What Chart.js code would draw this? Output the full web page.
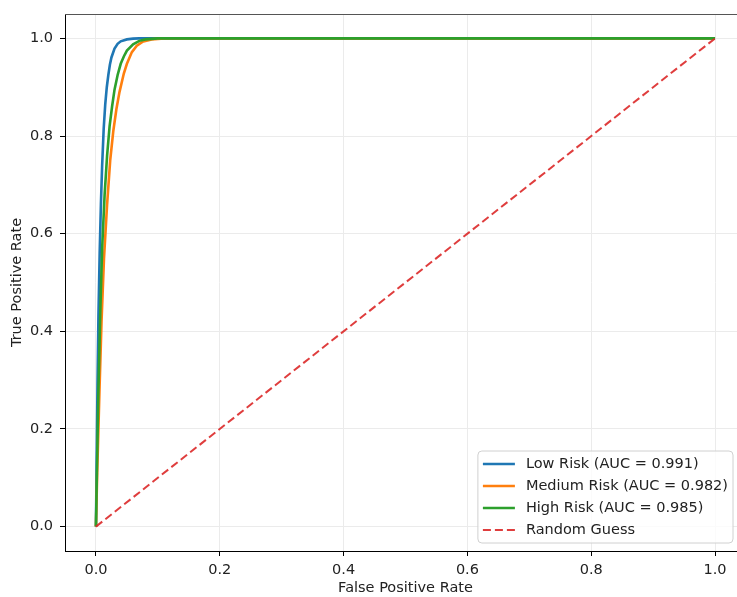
<!DOCTYPE html>
<html>
<head>
<meta charset="utf-8">
<script src="https://cdn.jsdelivr.net/npm/chart.js@4/dist/chart.umd.min.js"></script>
<style>
  html, body { margin: 0; padding: 0; background: #fff; overflow: hidden; }
  #wrap { width: 760px; height: 597px; }
</style>
</head>
<body>
<div id="wrap"><canvas id="roc" width="760" height="597"></canvas></div>
<script>
// Tick positions shared by both axes
const xTickValues = [0.0, 0.2, 0.4, 0.6, 0.8, 1.0];
const yTickValues = [0.0, 0.2, 0.4, 0.6, 0.8, 1.0];

// Series names and their areas under the curve
const riskClasses = ['Low Risk', 'Medium Risk', 'High Risk'];
const aucValues = [0.991, 0.982, 0.985];

// ROC points per risk class
const lowRiskFpr = [0, 0.001, 0.0025, 0.004, 0.006, 0.008, 0.010, 0.0125, 0.015, 0.0175, 0.020, 0.0225, 0.025, 0.030, 0.035, 0.040, 0.050, 0.060, 0.070, 0.100, 1.0];
const lowRiskTpr = [0, 0.12, 0.29, 0.43, 0.56, 0.66, 0.74, 0.815, 0.865, 0.90, 0.925, 0.946, 0.961, 0.979, 0.989, 0.994, 0.998, 0.9995, 1.0, 1.0, 1.0];

const mediumRiskFpr = [0, 0.002, 0.0057, 0.009, 0.013, 0.018, 0.023, 0.028, 0.033, 0.038, 0.045, 0.050, 0.058, 0.066, 0.075, 0.090, 0.110, 1.0];
const mediumRiskTpr = [0, 0.11, 0.28, 0.42, 0.55, 0.66, 0.75, 0.81, 0.855, 0.89, 0.928, 0.948, 0.972, 0.985, 0.993, 0.998, 1.0, 1.0];

const highRiskFpr = [0, 0.0015, 0.004, 0.007, 0.010, 0.014, 0.018, 0.022, 0.026, 0.030, 0.035, 0.040, 0.045, 0.050, 0.060, 0.070, 0.080, 0.100, 1.0];
const highRiskTpr = [0, 0.11, 0.28, 0.44, 0.57, 0.68, 0.76, 0.82, 0.86, 0.895, 0.925, 0.948, 0.963, 0.975, 0.988, 0.995, 0.998, 1.0, 1.0];

// Diagonal reference line
const randomFpr = [0, 1];
const randomTpr = [0, 1];

const FONT = 'DejaVu Sans';
const FONT_SIZE = 14.5;

function toPoints(xs, ys) {
  return xs.map((x, i) => ({ x: x, y: ys[i] }));
}

// Legend drawn inside the plot area, lower right
const innerLegend = {
  id: 'innerLegend',
  afterDraw(chart) {
    const ctx = chart.ctx;
    const area = chart.chartArea;
    const items = chart.data.datasets;
    ctx.save();
    ctx.font = FONT_SIZE + 'px "' + FONT + '"';
    let maxText = 0;
    items.forEach(d => { maxText = Math.max(maxText, ctx.measureText(d.label).width); });
    const padL = 5, lineLen = 32, gap = 11, padR = 5, rowH = 22, padT = 1;
    const w = padL + lineLen + gap + maxText + padR;
    const h = items.length * rowH + 4;
    const x0 = area.right - 13 - w;
    const y0 = area.bottom - 8 - h;
    // rounded frame
    const r = 4;
    ctx.beginPath();
    ctx.moveTo(x0 + r, y0);
    ctx.lineTo(x0 + w - r, y0);
    ctx.quadraticCurveTo(x0 + w, y0, x0 + w, y0 + r);
    ctx.lineTo(x0 + w, y0 + h - r);
    ctx.quadraticCurveTo(x0 + w, y0 + h, x0 + w - r, y0 + h);
    ctx.lineTo(x0 + r, y0 + h);
    ctx.quadraticCurveTo(x0, y0 + h, x0, y0 + h - r);
    ctx.lineTo(x0, y0 + r);
    ctx.quadraticCurveTo(x0, y0, x0 + r, y0);
    ctx.closePath();
    ctx.fillStyle = 'rgba(255,255,255,0.8)';
    ctx.fill();
    ctx.lineWidth = 1;
    ctx.strokeStyle = '#d0d0d0';
    ctx.stroke();
    items.forEach((d, i) => {
      const cy = y0 + padT + rowH / 2 + 1 + i * rowH;
      ctx.beginPath();
      ctx.setLineDash(d.borderDash || []);
      ctx.lineWidth = d.borderWidth;
      ctx.strokeStyle = d.borderColor;
      ctx.moveTo(x0 + padL, cy);
      ctx.lineTo(x0 + padL + lineLen, cy);
      ctx.stroke();
      ctx.setLineDash([]);
      ctx.fillStyle = '#222';
      ctx.textBaseline = 'middle';
      ctx.textAlign = 'left';
      ctx.fillText(d.label, x0 + padL + lineLen + gap, cy);
    });
    ctx.restore();
  }
};

// Top spine of the axes frame
const frameTop = {
  id: 'frameTop',
  afterDraw(chart) {
    const ctx = chart.ctx;
    const a = chart.chartArea;
    ctx.save();
    ctx.strokeStyle = '#555';
    ctx.lineWidth = 1.2;
    ctx.beginPath();
    ctx.moveTo(a.left, a.top + 0.5);
    ctx.lineTo(a.right, a.top + 0.5);
    ctx.stroke();
    ctx.restore();
  }
};

const seriesColors = ['#1f77b4', '#ff7f0e', '#2ca02c'];
const seriesFpr = [lowRiskFpr, mediumRiskFpr, highRiskFpr];
const seriesTpr = [lowRiskTpr, mediumRiskTpr, highRiskTpr];

const datasets = riskClasses.map((name, i) => ({
  label: name + ' (AUC = ' + aucValues[i].toFixed(3) + ')',
  data: toPoints(seriesFpr[i], seriesTpr[i]),
  borderColor: seriesColors[i],
  borderWidth: 2.6,
  pointRadius: 0,
  tension: 0,
  fill: false,
  order: 4 - i
}));
datasets.push({
  label: 'Random Guess',
  data: toPoints(randomFpr, randomTpr),
  borderColor: 'rgba(220,40,40,0.9)',
  borderWidth: 2,
  borderDash: [8, 4],
  pointRadius: 0,
  fill: false,
  order: 1
});

Chart.defaults.font.family = FONT;
Chart.defaults.font.size = FONT_SIZE;
Chart.defaults.color = '#222';

// Pin the axis boxes so the plot area lands at fixed edges
function fixWidth(w) {
  return s => { s.width = w; s.paddingTop = 0; s.paddingBottom = 0; s.paddingLeft = 0; s.paddingRight = 0; };
}
function fixHeight(h) {
  return s => { s.height = h; s.paddingTop = 0; s.paddingBottom = 0; s.paddingLeft = 0; s.paddingRight = 0; };
}

new Chart(document.getElementById('roc'), {
  type: 'line',
  data: { datasets: datasets },
  options: {
    responsive: false,
    animation: false,
    devicePixelRatio: 1,
    layout: { padding: { top: 14, right: 14, left: 0, bottom: 0 } },
    plugins: { legend: { display: false }, tooltip: { enabled: false } },
    scales: {
      x: {
        type: 'linear',
        min: -0.05,
        max: 1.05,
        afterBuildTicks: s => { s.ticks = xTickValues.map(v => ({ value: v })); },
        afterFit: fixHeight(46),
        ticks: { padding: 6, color: '#222', callback: v => v.toFixed(1), maxRotation: 0 },
        grid: { color: '#ebebeb', lineWidth: 1, tickColor: '#000', tickLength: 5, tickWidth: 1 },
        border: { display: true, color: '#000', width: 1 },
        title: { display: true, text: 'False Positive Rate', color: '#222', padding: { top: 0, bottom: 0 } }
      },
      y: {
        type: 'linear',
        min: -0.05,
        max: 1.05,
        afterBuildTicks: s => { s.ticks = yTickValues.map(v => ({ value: v })); },
        afterFit: fixWidth(65),
        ticks: { padding: 7, color: '#222', callback: v => v.toFixed(1) },
        grid: { color: '#ebebeb', lineWidth: 1, tickColor: '#000', tickLength: 5, tickWidth: 1 },
        border: { display: true, color: '#000', width: 1 },
        title: { display: true, text: 'True Positive Rate', color: '#222', padding: { top: 9, bottom: 0 } }
      }
    }
  },
  plugins: [innerLegend, frameTop]
});
</script>
</body>
</html>
